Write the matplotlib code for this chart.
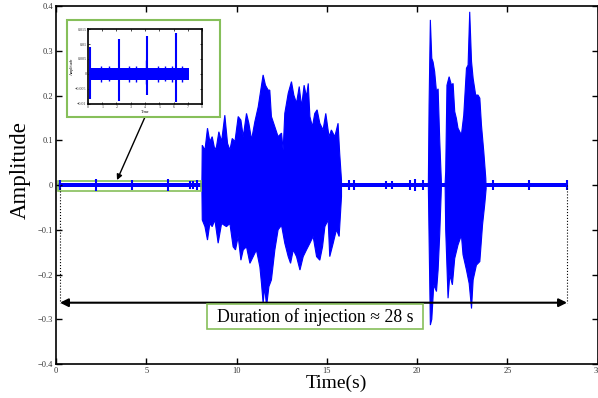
import numpy as np
import matplotlib
matplotlib.use("Agg")
import matplotlib.pyplot as plt
from matplotlib.patches import Rectangle

plt.rcParams["font.family"] = ["Liberation Serif", "DejaVu Serif"]

# waveform envelope: (time in s, amplitude)
b1_up_t = [8.08, 8.10, 8.25, 8.39, 8.52, 8.65, 8.80, 8.89, 9.02, 9.17, 9.35, 9.50, 9.63,
           9.76, 9.91, 10.09, 10.24, 10.37, 10.55, 10.68, 10.83, 11.01, 11.20, 11.34,
           11.47, 11.60, 11.75, 11.84, 11.93, 12.12, 12.30, 12.49, 12.58, 12.67, 12.86,
           13.04, 13.17, 13.32, 13.47, 13.60, 13.74, 13.87, 13.97, 14.06, 14.20, 14.33,
           14.46, 14.61, 14.79, 14.94, 15.12, 15.25, 15.44, 15.62, 15.71, 15.81]
b1_up_v = [0.005, 0.089, 0.078, 0.127, 0.097, 0.108, 0.078, 0.086, 0.119, 0.097, 0.156,
           0.093, 0.078, 0.104, 0.097, 0.153, 0.145, 0.108, 0.160, 0.138, 0.101, 0.141,
           0.175, 0.212, 0.246, 0.223, 0.212, 0.212, 0.153, 0.130, 0.108, 0.116, 0.078,
           0.160, 0.205, 0.231, 0.201, 0.183, 0.220, 0.175, 0.223, 0.197, 0.227, 0.153,
           0.130, 0.160, 0.168, 0.138, 0.123, 0.160, 0.108, 0.123, 0.108, 0.138, 0.071,
           0.011]
b1_lo_t = [8.08, 8.10, 8.25, 8.39, 8.52, 8.65, 8.80, 8.98, 9.17, 9.44, 9.63, 9.81, 9.94,
           10.09, 10.24, 10.37, 10.55, 10.74, 10.92, 11.10, 11.29, 11.38, 11.47, 11.56,
           11.66, 11.79, 11.93, 12.12, 12.30, 12.49, 12.67, 12.86, 12.99, 13.14, 13.32,
           13.51, 13.69, 13.87, 14.06, 14.24, 14.43, 14.61, 14.76, 14.89, 15.07, 15.16,
           15.35, 15.53, 15.68, 15.81]
b1_lo_v = [-0.005, -0.078, -0.093, -0.123, -0.086, -0.093, -0.078, -0.130, -0.086, -0.093,
           -0.086, -0.138, -0.145, -0.115, -0.168, -0.145, -0.138, -0.175, -0.160, -0.145,
           -0.183, -0.220, -0.264, -0.227, -0.272, -0.227, -0.212, -0.145, -0.100, -0.090,
           -0.130, -0.160, -0.175, -0.145, -0.160, -0.190, -0.160, -0.145, -0.130, -0.115,
           -0.160, -0.168, -0.138, -0.093, -0.078, -0.160, -0.130, -0.100, -0.115, -0.026]

b2_up_t = [20.62, 20.66, 20.73, 20.81, 20.88, 20.97, 21.07, 21.16, 21.25, 21.34]
b2_up_v = [0.005, 0.179, 0.369, 0.283, 0.275, 0.253, 0.208, 0.215, 0.100, 0.008]
b2_lo_t = [20.62, 20.66, 20.73, 20.81, 20.92, 21.07, 21.16, 21.25, 21.34]
b2_lo_v = [-0.005, -0.119, -0.313, -0.300, -0.223, -0.238, -0.190, -0.110, -0.008]

b3_up_t = [21.55, 21.58, 21.65, 21.77, 21.90, 21.99, 22.08, 22.17, 22.26, 22.36, 22.45,
           22.58, 22.73, 22.82, 22.91, 23.01, 23.10, 23.24, 23.37, 23.47, 23.56, 23.69,
           23.80]
b3_up_v = [0.005, 0.030, 0.223, 0.242, 0.223, 0.227, 0.164, 0.149, 0.127, 0.119, 0.112,
           0.156, 0.261, 0.268, 0.387, 0.276, 0.238, 0.201, 0.201, 0.194, 0.134, 0.074,
           0.015]
b3_lo_t = [21.55, 21.58, 21.71, 21.81, 21.95, 22.08, 22.26, 22.45, 22.54, 22.73, 22.88,
           23.01, 23.10, 23.28, 23.47, 23.62, 23.75, 23.82]
b3_lo_v = [-0.005, -0.100, -0.253, -0.201, -0.223, -0.164, -0.134, -0.112, -0.156, -0.190,
           -0.220, -0.276, -0.212, -0.179, -0.171, -0.089, -0.040, -0.008]

base_start, base_end, base_amp = 0.1, 28.3, 0.005
blip_t = [0.2, 2.2, 4.2, 6.2, 7.4, 7.6, 7.8, 16.2, 16.5, 18.3, 18.6, 19.6, 19.9, 20.3,
          24.2, 26.2, 28.3]
blip_amp = [0.012, 0.013, 0.012, 0.013, 0.01, 0.01, 0.012, 0.012, 0.012, 0.01, 0.01,
            0.012, 0.014, 0.012, 0.012, 0.012, 0.012]

# zoomed inset of the first 8 s
inset_end = 7.1
inset_band = 0.002
inset_spike_t = [0.18, 2.21, 4.15, 6.18]
inset_spike_hi = [0.0089, 0.0117, 0.0128, 0.0137]
inset_spike_lo = [-0.0083, -0.0091, -0.0072, -0.0094]
inset_bump_t = [0.9, 1.5, 2.9, 3.4, 4.05, 4.9, 5.4, 5.9, 6.6]
inset_bump_hi = [0.0028, 0.0026, 0.0027, 0.0025, 0.0045, 0.0028, 0.0027, 0.0028, 0.0026]
inset_bump_lo = [-0.0026, -0.0025, -0.0028, -0.0026, -0.0033, -0.0027, -0.0025, -0.0026, -0.0027]

duration_start, duration_end, duration_y = 0.22, 28.3, -0.263

blue = "#0000ff"
green = "#86bf5a"

fig = plt.figure(figsize=(5.98, 3.98), dpi=100)
ax = fig.add_axes([0.0936, 0.0854, 0.906, 0.8995])

ax.fill_between([base_start, base_end], -base_amp, base_amp, color=blue, lw=0)
ax.vlines(blip_t, -np.array(blip_amp), blip_amp, color=blue, lw=1.5)
for ut, uv, lt, lv in [(b1_up_t, b1_up_v, b1_lo_t, b1_lo_v),
                       (b2_up_t, b2_up_v, b2_lo_t, b2_lo_v),
                       (b3_up_t, b3_up_v, b3_lo_t, b3_lo_v)]:
    xs = np.r_[ut, lt[::-1]]
    ys = np.r_[uv, lv[::-1]]
    ax.fill(xs, ys, color=blue, lw=0.8, ec=blue)

ax.set_xlim(0, 30)
ax.set_ylim(-0.4, 0.4)
ax.set_xticks([0, 5, 10, 15, 20, 25, 30])
ax.set_yticks([-0.4, -0.3, -0.2, -0.1, 0, 0.1, 0.2, 0.3, 0.4])
ax.set_xticklabels(["0", "5", "10", "15", "20", "25", "30"])
ax.set_yticklabels(["\u22120.4", "\u22120.3", "\u22120.2", "\u22120.1", "0", "0.1", "0.2", "0.3", "0.4"])
ax.tick_params(direction="in", top=True, right=True, labelsize=6, labelcolor="#333333",
               length=4, width=1, pad=2)
for s in ax.spines.values():
    s.set_linewidth(1.2)
ax.set_xlabel("Time(s)", fontsize=14)
ax.xaxis.set_label_coords(0.518, -0.03)
ax.set_ylabel("Amplitude", fontsize=16.5)
ax.yaxis.set_label_coords(-0.047, 0.542)

# green box round the quiet stretch and arrow to the inset
ax.add_patch(Rectangle((0.11, -0.0125), 7.91, 0.0215, fill=False, ec=green, lw=1.2))
ax.annotate("", xy=(3.38, 0.011), xytext=(4.93, 0.152),
            arrowprops=dict(arrowstyle="-|>", color="black", lw=1.0,
                            shrinkA=0, shrinkB=0, mutation_scale=8))

# duration arrow
ax.plot([duration_start, duration_start], [0, duration_y], ":", color="black", lw=0.8)
ax.plot([duration_end, duration_end], [0, duration_y], ":", color="black", lw=0.8)
ax.annotate("", xy=(duration_start, duration_y), xytext=(duration_end, duration_y),
            arrowprops=dict(arrowstyle="<|-|>", color="black", lw=1.5,
                            shrinkA=0, shrinkB=0, mutation_scale=12))
ax.add_patch(Rectangle((8.36, -0.322), 11.95, 0.056, fc="white", ec=green, lw=1.2,
                       zorder=4))
ax.text(14.33, -0.294, "Duration of injection \u2248 28 s", fontsize=12.8,
        ha="center", va="center", zorder=5)

# inset
fig.patches.append(Rectangle((0.112, 0.706), 0.256, 0.244, transform=fig.transFigure,
                             fill=True, fc="white", ec=green, lw=1.5, zorder=5))
axi = fig.add_axes([0.147, 0.739, 0.191, 0.188])
axi.set_zorder(6)
axi.fill_between([0.1, inset_end], -inset_band, inset_band, color=blue, lw=0)
axi.vlines(inset_bump_t, inset_bump_lo, inset_bump_hi, color=blue, lw=1.0)
axi.vlines(inset_spike_t, inset_spike_lo, inset_spike_hi, color=blue, lw=1.5)
axi.set_xlim(0, 8)
axi.set_ylim(-0.01, 0.015)
axi.set_xticks(range(9))
axi.set_yticks([-0.01, -0.005, 0, 0.005, 0.01, 0.015])
axi.set_yticklabels(["\u22120.01", "\u22120.005", "0", "0.005", "0.01", "0.015"])
axi.tick_params(direction="in", top=True, right=True, labelsize=3, length=1.5,
                width=0.5, pad=1, labelcolor="#333333")
for s in axi.spines.values():
    s.set_linewidth(1.2)
axi.set_xlabel("Time", fontsize=3, labelpad=0.5)
axi.set_ylabel("Amplitude", fontsize=3, labelpad=1)

fig.savefig("out.png", dpi=100)
